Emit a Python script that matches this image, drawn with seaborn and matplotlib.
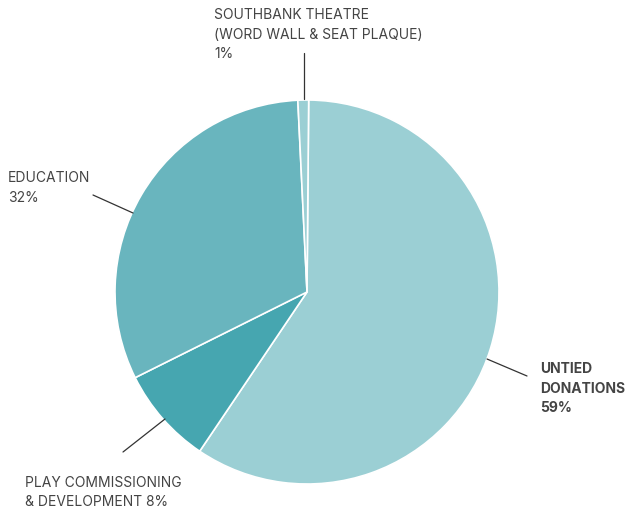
import matplotlib
matplotlib.use('Agg')
import matplotlib.pyplot as plt
import seaborn as sns

sns.set_theme(style='white')
plt.rcParams['font.family'] = ['Inter', 'DejaVu Sans']

W, H = 630, 510

# values (start at top, clockwise)
categories = ['UNTIED\nDONATIONS', 'PLAY COMMISSIONING\n& DEVELOPMENT', 'EDUCATION',
              'SOUTHBANK THEATRE\n(WORD WALL & SEAT PLAQUE)']
shares = [59.3, 8.2, 31.6, 0.9]
pct_labels = ['59%', '8%', '32%', '1%']
colors = ['#9BCFD4', '#46A6B0', '#69B5BE', '#9BCFD4']

TEXT = '#444444'

fig = plt.figure(figsize=(W / 100, H / 100), dpi=100)
ax = fig.add_axes([0, 0, 1, 1])

ax.pie(shares, colors=colors, startangle=89.5, counterclock=False,
       center=(307, H - 293), radius=192, frame=True,
       wedgeprops=dict(edgecolor='white', linewidth=1.2))
ax.set_xlim(0, W)
ax.set_ylim(0, H)
ax.set_aspect('equal')
ax.axis('off')


def leader(x0, y0, x1, y1):
    ax.plot([x0, x1], [H - y0, H - y1], color='#333333', lw=0.9)


leader(304, 54, 304, 100)
leader(93, 196, 133, 214)
leader(487, 360, 527, 377)
leader(123, 453, 165, 420)

fs = 10
ls = 1.52
ax.text(214, H - 8, categories[3] + '\n' + pct_labels[3], ha='left', va='top',
        fontsize=fs, color=TEXT, linespacing=ls)
ax.text(8, H - 171, categories[2] + '\n' + pct_labels[2], ha='left', va='top',
        fontsize=fs, color=TEXT, linespacing=ls)
ax.text(540, H - 362, categories[0] + '\n' + pct_labels[0], ha='left', va='top',
        fontsize=fs, color=TEXT, linespacing=ls, fontweight='bold')
ax.text(25, H - 476, categories[1] + ' ' + pct_labels[1], ha='left', va='top',
        fontsize=fs, color=TEXT, linespacing=1.45)

fig.savefig('out.png', dpi=100, facecolor='white')
